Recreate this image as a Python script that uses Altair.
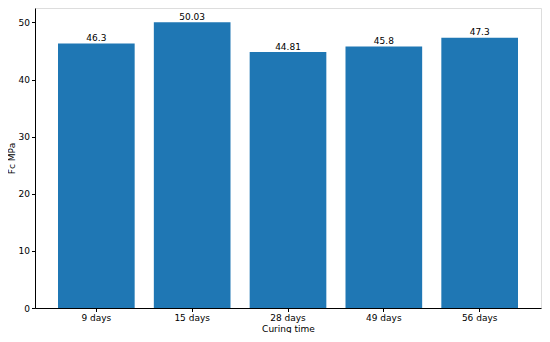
import altair as alt
import pandas as pd

categories = ["9 days", "15 days", "28 days", "49 days", "56 days"]
values = [46.3, 50.03, 44.81, 45.8, 47.3]
labels = ["46.3", "50.03", "44.81", "45.8", "47.3"]
y_ticks = [0, 10, 20, 30, 40, 50]

df = pd.DataFrame({"cat": categories, "val": values, "lab": labels})

font = "DejaVu Sans"
fs = 9

x = alt.X("cat:N", sort=categories, title="Curing time",
          scale=alt.Scale(paddingInner=0.2, paddingOuter=0.24, round=False),
          axis=alt.Axis(labelAngle=0, labelFontSize=fs, titleFontSize=fs,
                        labelColor="black", titleColor="black",
                        tickColor="black", domainColor="black",
                        tickSize=3.5, labelPadding=2, titlePadding=2,
                        titleFontWeight="normal", labelFont=font, titleFont=font))
y = alt.Y("val:Q", title="Fc MPa",
          scale=alt.Scale(domain=[0, 52.53], nice=False, zero=True),
          axis=alt.Axis(values=y_ticks, grid=False, labelFontSize=fs, titleFontSize=fs,
                        labelColor="black", titleColor="black",
                        tickColor="black", domainColor="black",
                        tickSize=3.5, labelPadding=2,
                        titleX=-24, titleY=150, titleAngle=270,
                        titleAlign="center", titleBaseline="middle",
                        titleFontWeight="normal", labelFont=font, titleFont=font))

bars = alt.Chart(df).mark_bar(color="#1f77b4").encode(x=x, y=y)
text = alt.Chart(df).mark_text(baseline="bottom", dy=-0.5, fontSize=fs, font=font,
                               color="black").encode(
    x=alt.X("cat:N", sort=categories), y=alt.Y("val:Q"), text="lab:N")

chart = (bars + text).properties(
    width=506, height=300,
    autosize=alt.AutoSizeParams(type="none"),
    padding={"left": 27, "top": 0, "right": 1, "bottom": 25},
).configure_view(stroke="black", strokeWidth=0.8).configure(background="white")

chart.save("out.html", embed_options={"renderer": "svg", "actions": False})
